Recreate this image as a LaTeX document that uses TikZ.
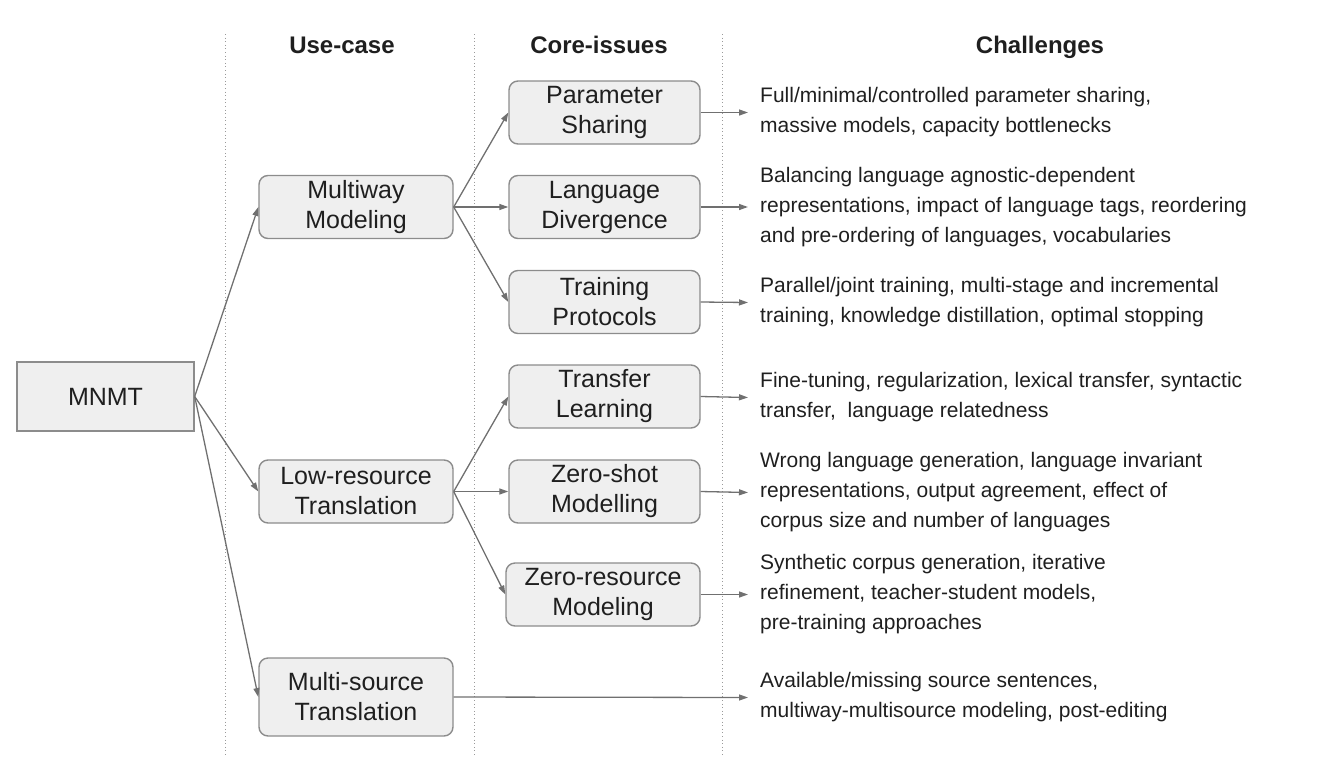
\documentclass[tikz,border=0pt]{standalone}
\usepackage{fontspec}
\setmainfont{Liberation Sans}
\usetikzlibrary{arrows.meta}
\definecolor{boxfill}{HTML}{EFEFEF}
\definecolor{boxline}{HTML}{8C8C8C}
\definecolor{linkcol}{HTML}{707070}
\definecolor{inkcol}{HTML}{1F1F1F}
\definecolor{sepcol}{HTML}{9A9A9A}
\tikzset{
  box/.style={draw=boxline, fill=boxfill, line width=1.4pt, rounded corners=9pt,
    align=center, inner sep=0pt, text=inkcol,
    font=\fontsize{25}{30}\selectfont},
  rootbox/.style={box, rounded corners=0pt},
  header/.style={anchor=base, text=inkcol, font=\fontsize{24}{29}\selectfont\bfseries},
  challenge/.style={anchor=west, align=left, inner xsep=12pt, inner ysep=0pt,
    text=inkcol, font=\fontsize{21}{30}\selectfont},
  link/.style={draw=linkcol, line width=1.3pt, -{Triangle[length=9pt,width=6pt]}},
  colsep/.style={draw=sepcol, line width=1pt, dash pattern=on 1pt off 2.6pt}
}
\begin{document}
\begin{tikzpicture}[x=1pt, y=-1pt]
\useasboundingbox (0,0) rectangle (1323,772);

% column separators
\draw[colsep] (225,34) -- (225,757);
\draw[colsep] (474,34) -- (474,757);
\draw[colsep] (722,34) -- (722,757);

% column headers
\node[header] (hUse) at (342,53) {Use-case};
\node[header] (hCore) at (599,53) {Core-issues};
\node[header] (hChal) at (1040,53) {Challenges};

% root
\node[rootbox, minimum width=177pt, minimum height=69pt] (mnmt) at (105.5,396.5) {MNMT};

% use-cases
\node[box, minimum width=194pt, minimum height=63pt] (mw) at (356,207) {Multiway\\Modeling};
\node[box, minimum width=194pt, minimum height=63pt] (lr) at (356,491.5) {Low-resource\\Translation};
\node[box, minimum width=194pt, minimum height=78pt] (ms) at (356,697) {Multi-source\\Translation};

% core issues
\node[box, minimum width=191pt, minimum height=63pt] (ps) at (604.5,112.5) {Parameter\\Sharing};
\node[box, minimum width=191pt, minimum height=63pt] (ld) at (604.5,207) {Language\\Divergence};
\node[box, minimum width=191pt, minimum height=63pt] (tp) at (604.5,302) {Training\\Protocols};
\node[box, minimum width=191pt, minimum height=63pt] (tl) at (604.5,396.5) {Transfer\\Learning};
\node[box, minimum width=191pt, minimum height=63pt] (zs) at (604.5,491.5) {Zero-shot\\Modelling};
\node[box, minimum width=194pt, minimum height=63pt] (zr) at (603,594.5) {Zero-resource\\Modeling};

% challenges
\node[challenge] (cps) at (748,112.5) {Full/minimal/controlled parameter sharing,\\massive models, capacity bottlenecks};
\node[challenge] (cld) at (748,207) {Balancing language agnostic-dependent\\representations, impact of language tags, reordering\\and pre-ordering of languages, vocabularies};
\node[challenge] (ctp) at (748,302.5) {Parallel/joint training, multi-stage and incremental\\training, knowledge distillation, optimal stopping};
\node[challenge] (ctl) at (748,397.5) {Fine-tuning, regularization, lexical transfer, syntactic\\transfer,\ \ language relatedness};
\node[challenge] (czs) at (748,492.5) {Wrong language generation, language invariant\\representations, output agreement, effect of\\corpus size and number of languages};
\node[challenge] (czr) at (748,594.5) {Synthetic corpus generation, iterative\\refinement, teacher-student models,\\pre-training approaches};
\node[challenge] (cms) at (748,697.5) {Available/missing source sentences,\\multiway-multisource modeling, post-editing};

% root to use-cases
\draw[link] (mnmt.east) -- (mw.west);
\draw[link] (mnmt.east) -- (lr.west);
\draw[link] (mnmt.east) -- (ms.west);

% use-cases to core issues
\draw[link] (mw.east) -- (ps.west);
\draw[link] (mw.east) -- (ld.west);
\draw[link] (mw.east) -- (tp.west);
\draw[link] (lr.east) -- (tl.west);
\draw[link] (lr.east) -- (zs.west);
\draw[link] (lr.east) -- (zr.west);

% core issues to challenges
\draw[link] (ps.east) -- (cps.west);
\draw[link] (ld.east) -- (cld.west);
\draw[link] (tp.east) -- (ctp.west);
\draw[link] (tl.east) -- (ctl.west);
\draw[link] (zs.east) -- (czs.west);
\draw[link] (zr.east) -- (czr.west);
\draw[link] (ms.east) -- (cms.west);
\end{tikzpicture}
\end{document}
